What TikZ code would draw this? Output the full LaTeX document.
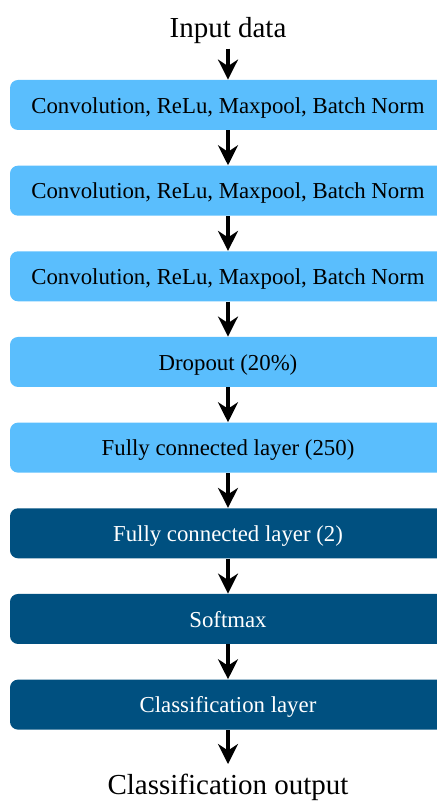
\documentclass[tikz,border=0pt]{standalone}
\usepackage{fontspec}
\setmainfont{Liberation Serif}
\usepackage{xcolor}
\usetikzlibrary{arrows.meta, positioning}
\definecolor{layerlight}{RGB}{90,190,253}
\definecolor{layerdark}{RGB}{0,80,128}

\begin{document}
\begin{tikzpicture}[
    node distance=17.43pt,
    layer/.style={rounded corners=4pt, fill=layerlight, text=black, minimum width=218pt, minimum height=25pt, inner sep=0pt, text height=10pt, text depth=1.7pt, align=center, font=\fontsize{11.4}{13}\selectfont},
    darklayer/.style={layer, fill=layerdark, text=white},
    lbl/.style={inner sep=0pt, font=\fontsize{14.5}{17}\selectfont},
    arr/.style={-{Stealth[length=10pt, width=10pt]}, line width=2.2pt}
]
\useasboundingbox (0,0) rectangle (218.5pt,-400.5pt);

\node[layer] (conv1) at (114pt,-52.5pt) {Convolution, ReLu, Maxpool, Batch Norm};
\node[layer, below=of conv1] (conv2) {Convolution, ReLu, Maxpool, Batch Norm};
\node[layer, below=of conv2] (conv3) {Convolution, ReLu, Maxpool, Batch Norm};
\node[layer, below=of conv3] (drop) {Dropout (20\%)};
\node[layer, below=of drop] (fc1) {Fully connected layer (250)};
\node[darklayer, below=of fc1] (fc2) {Fully connected layer (2)};
\node[darklayer, below=of fc2] (soft) {Softmax};
\node[darklayer, below=of soft] (cls) {Classification layer};
\node[lbl, above=18pt of conv1] (input) {Input data};
\node[lbl, below=32pt of cls, anchor=base] (output) {Classification output};

\draw[arr, shorten <=2.5pt] (input) -- (conv1);
\draw[arr] (conv1) -- (conv2);
\draw[arr] (conv2) -- (conv3);
\draw[arr] (conv3) -- (drop);
\draw[arr] (drop) -- (fc1);
\draw[arr] (fc1) -- (fc2);
\draw[arr] (fc2) -- (soft);
\draw[arr] (soft) -- (cls);
\draw[arr] (cls.south) -- ++(0,-17pt) coordinate (outtip);

\end{tikzpicture}
\end{document}
